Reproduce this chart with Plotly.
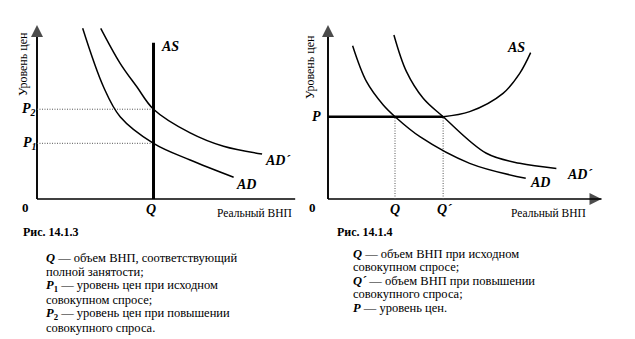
import plotly.graph_objects as go

W, H = 635, 339
SERIF = "Liberation Serif"

# ---- Fig. 14.1.3: vertical AS, demand shift raises only the price level ----
q_full = 4.26          # full-employment output
as_top = 8.98
p1, p2 = 3.20, 5.16    # price levels before / after the demand increase

ad1_x = [1.67, 2.43, 3.04, 4.26, 5.60, 7.19]
ad1_y = [9.81, 6.45, 4.73, 3.20, 2.24, 1.25]
ad1p_x = [2.33, 3.04, 3.65, 4.26, 5.60, 6.82, 8.23]
ad1p_y = [9.81, 7.80, 6.45, 5.16, 3.80, 3.03, 2.59]

# ---- Fig. 14.1.4: horizontal (Keynesian) segment of AS, output rises ----
p_level = 4.73
q0, q1 = 2.45, 4.21

ad2_x = [0.90, 1.41, 2.02, 2.45, 3.36, 5.18, 7.23]
ad2_y = [8.81, 6.74, 5.40, 4.73, 3.58, 2.05, 1.19]
ad2p_x = [2.41, 2.87, 3.48, 4.21, 5.79, 7.01, 8.35]
ad2p_y = [9.43, 7.32, 5.79, 4.73, 2.63, 2.05, 1.76]
as2_x = [0.0, 4.21, 5.18, 6.40, 7.01, 7.41]
as2_y = [4.73, 4.73, 5.02, 6.07, 7.22, 8.41]

notes_left = [
    "<b><i>Q</i></b> — объем ВНП, соответствующий",
    "полной занятости;",
    "<b><i>P</i><sub>1</sub></b> — уровень цен при исходном",
    "совокупном спросе;",
    "<b><i>P</i><sub>2</sub></b> — уровень цен при повышении",
    "совокупного спроса.",
]
notes_right = [
    "<b><i>Q</i></b> — объем ВНП при исходном",
    "совокупном спросе;",
    "<b><i>Q´</i></b> — объем ВНП при повышении",
    "совокупного спроса;",
    "<b><i>P</i></b> — уровень цен.",
]

# pixel geometry of the two panels (origin of each diagram, size of one unit)
X_UNIT, Y_UNIT = 27.35, 17.4
ORIGIN_Y = 199
LEFT_X0, RIGHT_X0 = 37, 328
RNG = [-1.2, 10.2]
AXIS_END = 10.0


def px_x(px):
    return px / W


def px_y(py):
    return 1 - py / H


def xdomain(x0):
    return [px_x(x0 + RNG[0] * X_UNIT), px_x(x0 + RNG[1] * X_UNIT)]


ydom = [px_y(ORIGIN_Y - RNG[0] * Y_UNIT), px_y(ORIGIN_Y - RNG[1] * Y_UNIT)]

fig = go.Figure()

curve = dict(color="black", width=1.5, shape="spline", smoothing=1.0)
dots = dict(color="#555", width=1, dash="1px,1.5px")


def add_line(x, y, xa, ya, marker=None, **line):
    fig.add_trace(go.Scatter(x=x, y=y, xaxis=xa, yaxis=ya,
                             mode="lines+markers" if marker else "lines",
                             marker=marker, line=line,
                             hoverinfo="skip", showlegend=False))


# coordinate axes: plain lines ending in a filled arrowhead
for xa, ya in (("x", "y"), ("x2", "y2")):
    add_line([0, AXIS_END], [0, 0], xa, ya, color="black", width=1.7,
             marker=dict(symbol=["circle", "arrow-right"], size=[0, 12], color="black",
                         line=dict(width=0)))
    add_line([0, 0], [0, AXIS_END], xa, ya, color="black", width=1.9,
             marker=dict(symbol=["circle", "arrow-up"], size=[0, 12], color="black",
                         line=dict(width=0)))

# left panel
add_line([0, q_full], [p2, p2], "x", "y", **dots)
add_line([0, q_full], [p1, p1], "x", "y", **dots)
add_line(ad1_x, ad1_y, "x", "y", **curve)
add_line(ad1p_x, ad1p_y, "x", "y", **curve)
add_line([q_full, q_full], [0, as_top], "x", "y", color="black", width=3)

# right panel
add_line([q0, q0], [0, p_level], "x2", "y2", **dots)
add_line([q1, q1], [0, p_level], "x2", "y2", **dots)
add_line(ad2_x, ad2_y, "x2", "y2", **curve)
add_line(ad2p_x, ad2p_y, "x2", "y2", **curve)
add_line(as2_x[:2], as2_y[:2], "x2", "y2", color="black", width=2.5)
add_line(as2_x[1:], as2_y[1:], "x2", "y2", **curve)

ann = []


def label(text, x, y, xr, yr, xanchor="left", size=14):
    ann.append(dict(text=f"<b><i>{text}</i></b>", x=x, y=y, xref=xr, yref=yr,
                    xanchor=xanchor, yanchor="middle", showarrow=False,
                    font=dict(family=SERIF, size=size, color="black")))


# left panel labels
label("AS", 4.45, 8.74, "x", "y")
label("AD´", 8.25, 2.24, "x", "y")
label("AD", 7.2, 0.86, "x", "y")
label("P<sub>2</sub>", 0.05, p2, "x", "y", xanchor="right")
label("P<sub>1</sub>", 0.05, p1, "x", "y", xanchor="right")
label("Q", q_full - 0.1, -0.63, "x", "y", xanchor="center")
ann.append(dict(text="<b>0</b>", x=-0.42, y=-0.5, xref="x", yref="y", showarrow=False,
                xanchor="center", yanchor="middle",
                font=dict(family=SERIF, size=13, color="black")))

# right panel labels
label("AS", 6.47, 8.68, "x2", "y2")
label("AD", 7.3, 0.92, "x2", "y2")
label("AD´", 8.65, 1.38, "x2", "y2")
label("P", -0.2, p_level, "x2", "y2", xanchor="right")
label("Q", q0, -0.63, "x2", "y2", xanchor="center")
label("Q´", q1 + 0.08, -0.63, "x2", "y2", xanchor="center")
ann.append(dict(text="<b>0</b>", x=-0.55, y=-0.5, xref="x2", yref="y2", showarrow=False,
                xanchor="center", yanchor="middle",
                font=dict(family=SERIF, size=13, color="black")))

small = dict(family=SERIF, size=11.5, color="black")

# axis titles
for cx, cy in ((254, 213), (548, 213)):
    ann.append(dict(text="Реальный ВНП", x=px_x(cx), y=px_y(cy), xref="paper", yref="paper",
                    showarrow=False, xanchor="center", yanchor="middle", font=small))
for cx, cy in ((23, 64), (310, 67)):
    ann.append(dict(text="Уровень цен", x=px_x(cx), y=px_y(cy), xref="paper", yref="paper",
                    showarrow=False, xanchor="center", yanchor="middle", textangle=-90,
                    font=dict(family=SERIF, size=12, color="black")))

# figure captions
for txt, lx in (("Рис. 14.1.3", 21), ("Рис. 14.1.4", 335)):
    ann.append(dict(text=f"<b>{txt}</b>", x=px_x(lx), y=px_y(232), xref="paper", yref="paper",
                    showarrow=False, xanchor="left", yanchor="middle",
                    font=dict(family=SERIF, size=12, color="black")))

# explanatory notes under the panels
note_font = dict(family=SERIF, size=12.5, color="black")
for i, line in enumerate(notes_left):
    ann.append(dict(text=line, x=px_x(44), y=px_y(258 + i * 13.9), xref="paper", yref="paper",
                    showarrow=False, xanchor="left", yanchor="middle", font=note_font))
for i, line in enumerate(notes_right):
    ann.append(dict(text=line, x=px_x(351), y=px_y(254 + i * 13.4), xref="paper", yref="paper",
                    showarrow=False, xanchor="left", yanchor="middle", font=note_font))

hidden = dict(visible=False, range=RNG, fixedrange=True)
fig.update_layout(
    width=W, height=H, margin=dict(l=0, r=0, t=0, b=0),
    paper_bgcolor="white", plot_bgcolor="white",
    font=dict(family=SERIF, color="black"),
    xaxis=dict(domain=xdomain(LEFT_X0), anchor="y", **hidden),
    yaxis=dict(domain=ydom, anchor="x", **hidden),
    xaxis2=dict(domain=xdomain(RIGHT_X0), anchor="y2", **hidden),
    yaxis2=dict(domain=ydom, anchor="x2", **hidden),
    annotations=ann,
    showlegend=False,
)

fig.write_html("out.html", config={"displayModeBar": False})
